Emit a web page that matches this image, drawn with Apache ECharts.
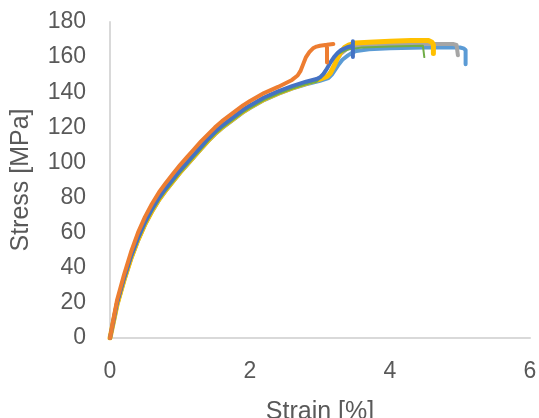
<!DOCTYPE html>
<html>
<head>
<meta charset="utf-8">
<script src="https://cdn.jsdelivr.net/npm/echarts@6/dist/echarts.min.js"></script>
<style>
  html, body { margin: 0; padding: 0; background: #fff; }
  #main { width: 539px; height: 418px; }
</style>
</head>
<body>
<div id="main"></div>
<script>
// strain [%], stress [MPa]
const orange = [[0, 0], [0.05, 11], [0.1, 21.5], [0.2, 36], [0.3, 49], [0.4, 60], [0.5, 69], [0.6, 76.5], [0.7, 83], [0.8, 88.5], [0.9, 93.5], [1.0, 98.5], [1.1, 103], [1.2, 107.5], [1.3, 112], [1.4, 116], [1.5, 120], [1.6, 123.5], [1.7, 126.5], [1.8, 129.5], [1.9, 132.5], [2.0, 135], [2.2, 139.5], [2.4, 143], [2.6, 147], [2.68, 149.5], [2.72, 152], [2.76, 156], [2.8, 160], [2.85, 163], [2.9, 165], [2.95, 166], [3.0, 166.5], [3.1, 167], [3.19, 167.5], [3.1, 167], [3.1, 157]]
const yellow = [[0, 0], [0.05, 9.5], [0.1, 19], [0.2, 33], [0.3, 45.5], [0.4, 56], [0.5, 65], [0.6, 72.5], [0.7, 79], [0.8, 84.5], [0.9, 89.5], [1.0, 94.5], [1.1, 99], [1.2, 103.5], [1.3, 108], [1.4, 112.5], [1.5, 116.5], [1.6, 120], [1.7, 123], [1.8, 126], [1.9, 129], [2.0, 131.5], [2.2, 136], [2.4, 139.5], [2.6, 142.5], [2.8, 145], [3.0, 147.5], [3.1, 149], [3.15, 151], [3.2, 155], [3.25, 159.5], [3.3, 163], [3.35, 165.5], [3.42, 167], [3.5, 168], [3.7, 168.5], [4.0, 169], [4.3, 169.5], [4.55, 169.5], [4.6, 168.5], [4.62, 167], [4.62, 162]]
const gray = [[0, 0], [0.05, 9.5], [0.1, 19], [0.2, 33], [0.3, 45.5], [0.4, 56], [0.5, 65], [0.6, 72.5], [0.7, 79], [0.8, 84.5], [0.9, 89.5], [1.0, 94.5], [1.1, 99], [1.2, 103.5], [1.3, 108], [1.4, 112.5], [1.5, 116.5], [1.6, 120], [1.7, 123], [1.8, 126], [1.9, 129], [2.0, 131.5], [2.2, 136], [2.4, 139.5], [2.6, 142.5], [2.8, 145], [3.0, 147.5], [3.1, 149], [3.15, 151.5], [3.2, 155], [3.25, 159], [3.3, 162], [3.38, 164.5], [3.45, 166], [3.8, 167], [4.5, 167.5], [4.9, 167.5], [4.95, 167], [4.97, 166], [4.97, 161]]
const lightBlue = [[0, 0], [0.05, 9], [0.1, 18.5], [0.2, 32.5], [0.3, 45], [0.4, 55.5], [0.5, 64.5], [0.6, 72], [0.7, 78.5], [0.8, 84], [0.9, 89], [1.0, 94], [1.1, 98.5], [1.2, 103], [1.3, 107.5], [1.4, 112], [1.5, 116], [1.6, 119.5], [1.7, 122.5], [1.8, 125.5], [1.9, 128.5], [2.0, 131], [2.2, 135.5], [2.4, 139], [2.6, 142], [2.8, 144.5], [3.0, 146.5], [3.12, 148], [3.17, 150], [3.22, 153], [3.27, 156], [3.32, 158.5], [3.4, 161], [3.46, 162.5], [3.52, 163.5], [3.7, 164.5], [4.0, 165], [4.5, 165.5], [5.0, 165.5], [5.05, 165], [5.08, 164], [5.08, 156]]
const darkBlue = [[0, 0], [0.05, 10], [0.1, 20], [0.2, 34], [0.3, 46.5], [0.4, 57], [0.5, 66], [0.6, 73.5], [0.7, 80], [0.8, 85.5], [0.9, 90.5], [1.0, 95.5], [1.1, 100], [1.2, 104.5], [1.3, 109], [1.4, 113.5], [1.5, 117.5], [1.6, 121], [1.7, 124], [1.8, 127], [1.9, 130], [2.0, 132.5], [2.2, 137], [2.4, 140.5], [2.6, 143.5], [2.8, 146], [2.95, 147.5], [3.0, 148.5], [3.05, 150.5], [3.1, 153.5], [3.15, 157], [3.2, 160], [3.25, 162.3], [3.3, 164], [3.38, 165.5], [3.47, 166.5], [3.47, 169], [3.47, 160]]
const green = [[0, 0], [0.05, 9], [0.1, 18.5], [0.2, 32.5], [0.3, 45], [0.4, 55.5], [0.5, 64.5], [0.6, 72], [0.7, 78.5], [0.8, 84], [0.9, 89], [1.0, 94], [1.1, 98.5], [1.2, 103], [1.3, 107.5], [1.4, 112], [1.5, 116], [1.6, 119.5], [1.7, 122.5], [1.8, 125.5], [1.9, 128.5], [2.0, 131], [2.2, 135.5], [2.4, 139], [2.6, 142], [2.8, 144.5], [2.95, 146], [3.0, 148], [3.05, 151], [3.1, 154], [3.15, 157], [3.2, 159.5], [3.25, 161.5], [3.32, 163], [3.4, 164.3], [3.6, 165.5], [4.0, 166], [4.47, 166.5], [4.49, 166], [4.49, 160]]

const xTicks = [0, 2, 4, 6]
const yTicks = [0, 20, 40, 60, 80, 100, 120, 140, 160, 180]

const font = 'Liberation Sans, Arial, sans-serif'
const textColor = '#595959'

function line (data, color, width, z) {
  return {
    type: 'line',
    data: data,
    showSymbol: false,
    smooth: false,
    z: z,
    lineStyle: { color: color, width: width, join: 'round', cap: 'round' }
  }
}

const myChart = echarts.init(document.getElementById('main'))
const option = {
  animation: false,
  grid: { left: 110, right: 9, top: 22, bottom: 80, outerBoundsMode: 'none', containLabel: false },
  xAxis: {
    type: 'value',
    min: xTicks[0],
    max: xTicks[xTicks.length - 1],
    interval: 2,
    name: 'Strain [%]',
    nameLocation: 'middle',
    nameGap: 62,
    nameTextStyle: { fontFamily: font, fontSize: 25, color: textColor },
    axisLine: { lineStyle: { color: '#d9d9d9', width: 2 } },
    axisTick: { show: false },
    splitLine: { show: false },
    axisLabel: { fontFamily: font, fontSize: 23, color: textColor, margin: 22 }
  },
  yAxis: {
    type: 'value',
    min: yTicks[0],
    max: yTicks[yTicks.length - 1],
    interval: 20,
    name: 'Stress [MPa]',
    nameLocation: 'middle',
    nameGap: 76,
    nameTextStyle: { fontFamily: font, fontSize: 25, color: textColor },
    axisLine: { show: true, lineStyle: { color: '#d9d9d9', width: 2 } },
    axisTick: { show: false },
    splitLine: { show: false },
    axisLabel: { fontFamily: font, fontSize: 23, color: textColor, margin: 24 }
  },
  series: [
    line(lightBlue, '#5B9BD5', 4, 2),
    line(gray, '#A5A5A5', 4, 3),
    line(yellow, '#FFC000', 5, 4),
    line(green, '#70AD47', 2, 5),
    line(darkBlue, '#4472C4', 4, 6),
    line(orange, '#ED7D31', 4, 7)
  ]
}
myChart.setOption(option)
</script>
</body>
</html>
